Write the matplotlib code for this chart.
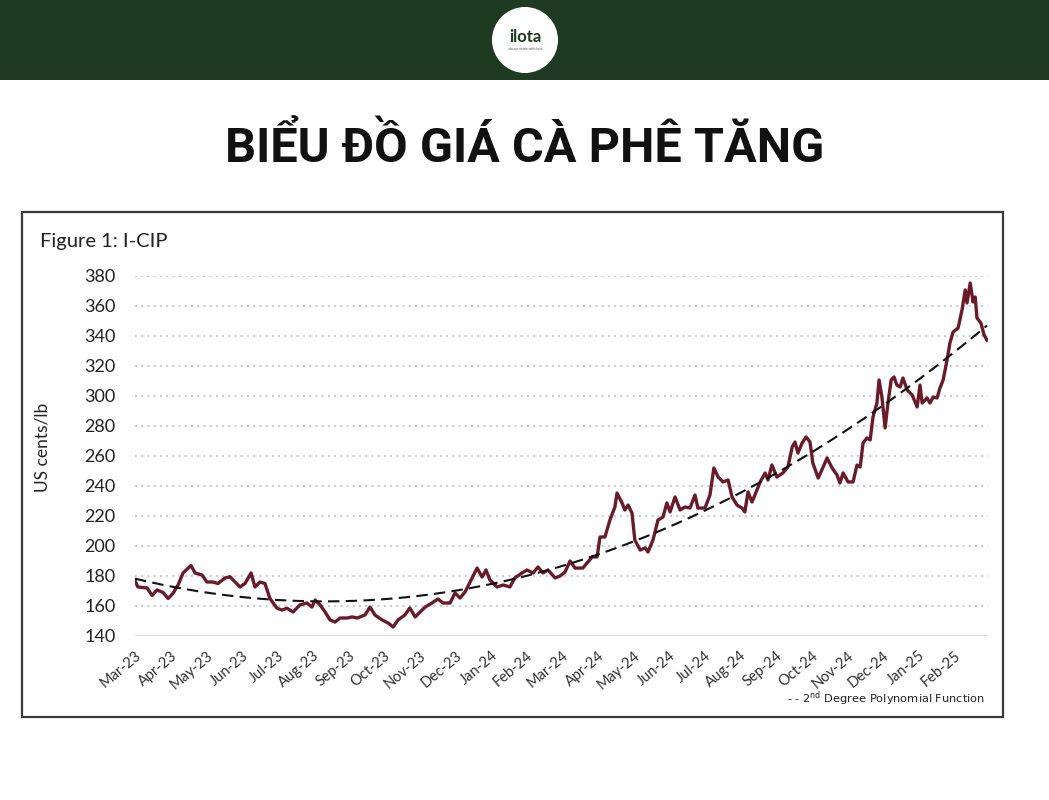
import numpy as np
import matplotlib
matplotlib.use("Agg")
import matplotlib.pyplot as plt
from matplotlib.patches import Rectangle, Ellipse

# ---- data (time in months since 1 Mar 2023, price in US cents/lb) ----
months = [0.00, 0.08, 0.34, 0.48, 0.62, 0.79, 0.93, 1.07, 1.21, 1.35, 1.57, 1.69, 1.88,
          2.02, 2.19, 2.33, 2.53, 2.67, 2.81, 2.95, 3.09, 3.26, 3.37, 3.51, 3.65, 3.79,
          3.99, 4.13, 4.27, 4.44, 4.63, 4.83, 4.97, 5.06, 5.20, 5.34, 5.48, 5.62, 5.76,
          5.96, 6.10, 6.24, 6.46, 6.60, 6.74, 6.94, 7.11, 7.25, 7.39, 7.58, 7.72, 7.87,
          8.01, 8.15, 8.34, 8.51, 8.65, 8.85, 8.99, 9.13, 9.27, 9.47, 9.61, 9.75, 9.86,
          9.97, 10.17, 10.34, 10.53, 10.67, 10.87, 11.01, 11.18, 11.32, 11.46, 11.60,
          11.80, 11.94, 12.08, 12.22, 12.36, 12.58, 12.84, 12.98, 13.06, 13.20, 13.34,
          13.48, 13.54, 13.68, 13.76, 13.85, 13.96, 14.04, 14.19, 14.33, 14.41, 14.55,
          14.69, 14.83, 14.94, 15.03, 15.17, 15.31, 15.45, 15.59, 15.73, 15.81, 16.01,
          16.15, 16.26, 16.38, 16.52, 16.66, 16.77, 16.91, 17.05, 17.13, 17.22, 17.33,
          17.47, 17.56, 17.70, 17.78, 17.89, 18.03, 18.20, 18.34, 18.46, 18.54, 18.62,
          18.74, 18.85, 18.96, 19.04, 19.19, 19.33, 19.44, 19.58, 19.72, 19.80, 19.89,
          20.03, 20.17, 20.28, 20.37, 20.45, 20.56, 20.65, 20.73, 20.84, 20.90, 20.98,
          21.07, 21.15, 21.24, 21.32, 21.40, 21.49, 21.57, 21.69, 21.83, 21.97, 22.05,
          22.11, 22.25, 22.33, 22.42, 22.53, 22.61, 22.70, 22.81, 22.89, 22.98, 23.12,
          23.23, 23.32, 23.37, 23.46, 23.54, 23.60, 23.65, 23.76, 23.85, 23.93]
price = [177, 172.7, 172, 167, 170.7, 169, 165, 168.5, 174, 182, 187, 182, 180.7,
         176, 176, 175, 178.7, 179.5, 176, 172.7, 175, 182, 172.7, 176, 175, 165,
         158.5, 157.3, 158.5, 156, 160.7, 162, 159.3, 164, 160.7, 156, 150.7, 149.3, 152,
         152, 152.7, 152, 154, 159.3, 154, 150.7, 148.7, 146, 150.7, 154, 158.7, 152.7,
         156, 159.3, 162, 164.7, 162, 162, 168.7, 165.3, 169.3, 178.7, 185.3, 179.3, 184,
         177.3, 172.7, 174, 172.7, 178.7, 182, 184, 182, 186, 182, 184,
         178.7, 180, 182.7, 190, 185.3, 185.3, 192.7, 192.7, 206, 206, 217.3,
         226, 235.3, 228.7, 224, 227.3, 222, 204, 197.3, 198.7, 196, 204,
         217.3, 219.3, 228.7, 222.7, 232.7, 224, 226, 225.3, 234, 225.3, 225.3,
         234, 252, 246, 242.7, 244, 232.7, 227.3, 225.3, 222.7, 236, 229.3,
         237.3, 242.7, 248.7, 244, 254, 246, 248.7, 252.7, 266, 269.3, 262,
         268.7, 272.7, 269.3, 255.3, 245.3, 252.7, 258.7, 252, 247.3, 242, 248.7,
         242.7, 242.7, 254, 252.7, 268.7, 272, 270.7, 286, 295.3, 310.7, 299.3,
         278.7, 295.3, 310.7, 312.7, 307.3, 306, 312, 304, 300.7, 292.7, 307.3,
         295.3, 298.7, 295.3, 299.3, 298.7, 305.3, 310.7, 324, 335.3, 342.7, 345.3,
         357.3, 370.7, 362, 375.3, 362.7, 366, 352, 348.7, 340.7, 337.3]
month_labels = ["Mar-23", "Apr-23", "May-23", "Jun-23", "Jul-23", "Aug-23", "Sep-23",
                "Oct-23", "Nov-23", "Dec-23", "Jan-24", "Feb-24", "Mar-24", "Apr-24",
                "May-24", "Jun-24", "Jul-24", "Aug-24", "Sep-24", "Oct-24", "Nov-24",
                "Dec-24", "Jan-25", "Feb-25"]
y_ticks = [140, 160, 180, 200, 220, 240, 260, 280, 300, 320, 340, 360, 380]

W, H = 1049, 800
fig = plt.figure(figsize=(W / 100, H / 100), dpi=100)
fig.patch.set_facecolor("white")

def fx(px):
    return px / W

def fy(py):
    return 1 - py / H

# banner
fig.patches.append(Rectangle((0, fy(80)), 1, 80 / H, transform=fig.transFigure,
                             facecolor="#1e3a21", edgecolor="none", zorder=-3))
fig.patches.append(Ellipse((fx(525), fy(40)), 66 / W, 66 / H,
                   transform=fig.transFigure, facecolor="white", edgecolor="none", zorder=-2))
fig.text(fx(525), fy(37), "ilota", ha="center", va="center", fontsize=12,
         fontweight="bold", family="Lato", color="#1e3a21")
fig.text(fx(525), fy(49), "always made with love", ha="center", va="center",
         fontsize=2.5, family="Lato", color="#555555")

# title
fig.text(fx(525), fy(148), "BIỂU ĐỒ GIÁ CÀ PHÊ TĂNG", ha="center", va="center",
         fontsize=35, fontweight="bold", family="Roboto", color="#111111")

# chart frame
fig.patches.append(Rectangle((fx(22), fy(717)), (1003 - 22) / W, (717 - 212) / H,
                             transform=fig.transFigure, facecolor="white",
                             edgecolor="#3a3a3a", linewidth=1.6, zorder=-3))
fig.text(fx(40), fy(241), "Figure 1: I-CIP", ha="left", va="center", fontsize=14.5,
         family="Lato", color="#222222")

ax = fig.add_axes([fx(135), fy(636), (988 - 135) / W, (636 - 276) / H])
ax.set_zorder(2)
ax.set_facecolor("none")
ax.set_xlim(0, 23.96)
ax.set_ylim(140, 380)

for v in y_ticks[1:]:
    ax.axhline(v, color="#c8c8c8", linestyle=(0, (1, 2.2)), linewidth=1.4, zorder=1)
ax.axhline(140, color="#d9d9d9", linewidth=1.5, zorder=1)

ax.plot(months, price, color="#6a1b2b", linewidth=2.4, zorder=3, solid_joinstyle="round")

coef = np.polyfit(months, price, 2)
tt = np.linspace(0, 23.93, 200)
ax.plot(tt, np.polyval(coef, tt), color="#111111", linewidth=1.5,
        linestyle=(0, (5.5, 3.0)), zorder=4)

for s in ax.spines.values():
    s.set_visible(False)
ax.set_yticks(y_ticks)
ax.set_yticklabels([str(v) for v in y_ticks], fontsize=13, family="Lato", color="#222222")
ax.set_xticks(range(len(month_labels)))
ax.set_xticklabels(month_labels, rotation=40, ha="right", rotation_mode="anchor",
                   fontsize=10.5, family="Lato", color="#333333")
ax.tick_params(axis="both", length=0)
ax.tick_params(axis="y", pad=14)
ax.tick_params(axis="x", pad=9)

fig.text(fx(43), fy(447), "US cents/lb", rotation=90, ha="center", va="center",
         fontsize=12.5, family="Lato", color="#222222")

fig.text(fx(787), fy(699), r"- - 2$^{\mathrm{nd}}$ Degree Polynomial Function",
         ha="left", va="center", fontsize=8.2, family="DejaVu Sans", color="#222222")

fig.savefig("out.png", dpi=100, facecolor="white")
